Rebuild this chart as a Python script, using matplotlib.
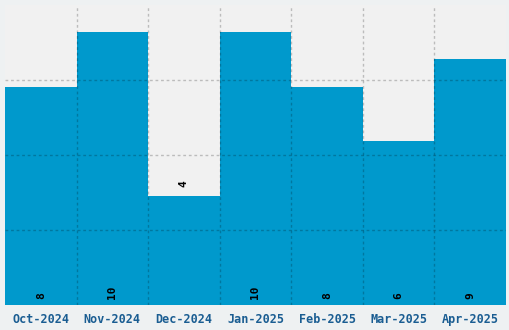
import matplotlib.pyplot as plt

months = ['Oct-2024', 'Nov-2024', 'Dec-2024', 'Jan-2025', 'Feb-2025', 'Mar-2025', 'Apr-2025']
counts = [8, 10, 4, 10, 8, 6, 9]

fig = plt.figure(figsize=(5.1, 3.3), dpi=100, facecolor='#eef1f2')
ax = fig.add_axes([5 / 510, 25.5 / 330, 501 / 510, 299.5 / 330])
ax.set_facecolor('#f1f1f1')

x = list(range(len(months)))
ax.bar(x, counts, width=1.0, color='#0099cc', zorder=2)

ax.set_xlim(-0.5, len(months) - 0.5)
ax.set_ylim(0, 11)

# grid on category borders and every 2.75
for b in [i + 0.5 for i in range(len(months) - 1)]:
    ax.axvline(b, color='#000000', alpha=0.22, ls=(0, (2, 2)), lw=1, zorder=3)
for yv in [2.75, 5.5, 8.25]:
    ax.axhline(yv, color='#000000', alpha=0.22, ls=(0, (2, 2)), lw=1, zorder=3)

ax.set_xticks(x)
ax.set_xticklabels(months, family='DejaVu Sans Mono', fontweight='bold',
                   fontsize=8.5, color='#1a5d92')
ax.tick_params(axis='x', length=0, pad=6)
ax.set_yticks([])
for s in ax.spines.values():
    s.set_visible(False)

# value labels, inside at the base, small bars above the top
for xi, v in zip(x, counts):
    if v < 5:
        ax.annotate(str(v), (xi, v), xytext=(0, 6), textcoords='offset points',
                    rotation=90, ha='center', va='bottom', fontsize=8,
                    family='DejaVu Sans Mono', fontweight='bold', color='black', zorder=4)
    else:
        ax.annotate(str(v), (xi, 0), xytext=(0, 4), textcoords='offset points',
                    rotation=90, ha='center', va='bottom', fontsize=8,
                    family='DejaVu Sans Mono', fontweight='bold', color='black', zorder=4)

fig.savefig('out.png', dpi=100, facecolor=fig.get_facecolor())
